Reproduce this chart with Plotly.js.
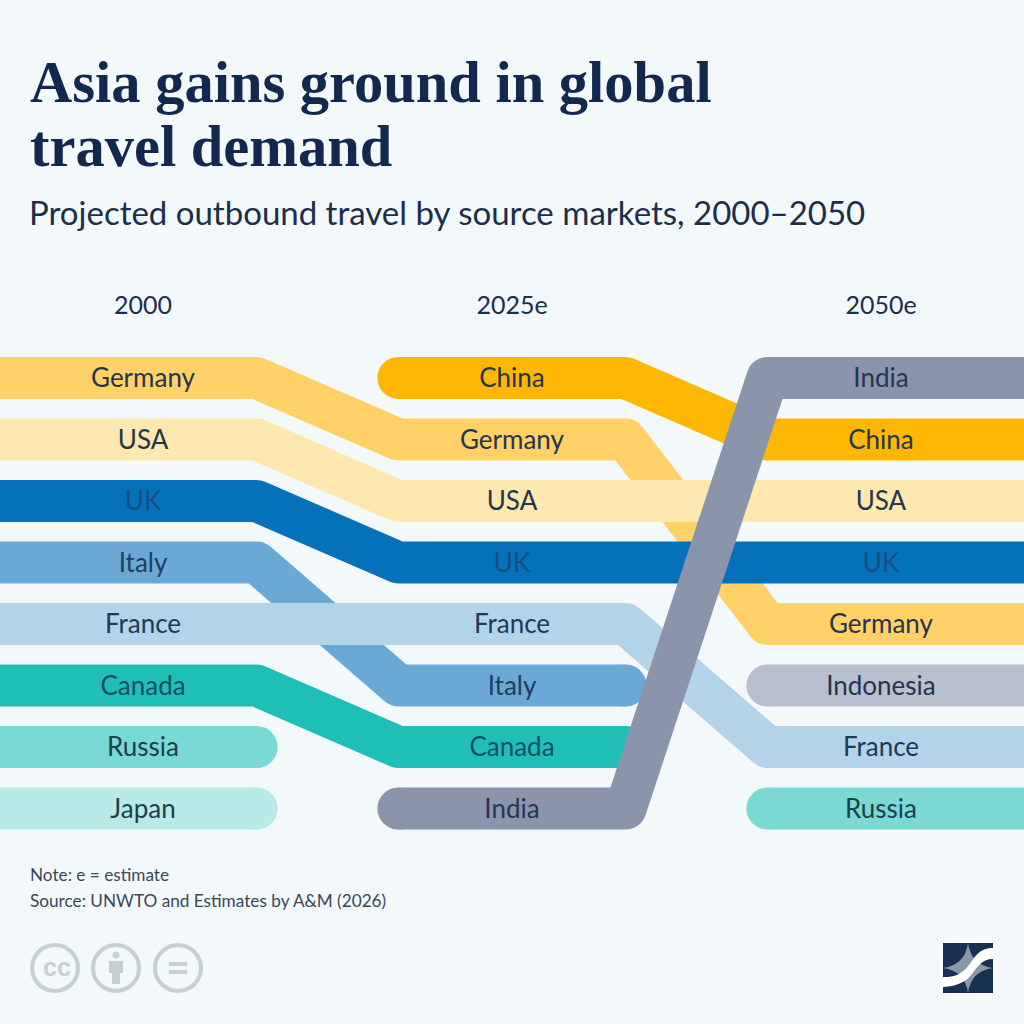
<!DOCTYPE html>
<html>
<head>
<meta charset="utf-8">
<script src="https://cdn.plot.ly/plotly-3.0.1.min.js"></script>
<style>body { margin: 0; background: #f3f8fb; }</style>
</head>
<body>
<div id="chart" style="width:1024px;height:1024px"></div>
<script>
var years = [2000, 2025, 2050];
var yearLabels = ['2000', '2025e', '2050e'];

// rank in each year, null = outside the top eight. drawn in this order
var germany = [1, 2, 5];
var italy = [4, 6, null];
var japan = [8, null, null];
var russia = [7, null, 8];
var canada = [6, 7, null];
var usa = [2, 3, 3];
var uk = [3, 4, 4];
var france = [5, 5, 7];
var indonesia = [null, null, 6];
var china = [null, 1, 2];
var india = [null, 8, 1];

var names = ['Germany', 'Italy', 'Japan', 'Russia', 'Canada', 'USA', 'UK', 'France', 'Indonesia', 'China', 'India'];
var ranks = [germany, italy, japan, russia, canada, usa, uk, france, indonesia, china, india];
var colors = ['#ffd166', '#6aa9d6', '#b9eae7', '#7bd9d4', '#1fbfb8', '#ffe8b0', '#0571bb', '#b2d3e8', '#b8c0cf', '#ffb703', '#8a95ab'];
var textColors = ['#24354f', '#1c3f63', '#1c3f4a', '#1c3f4a', '#0f4f5c', '#24354f', '#124f85', '#1c3a58', '#24354f', '#24354f', '#24354f'];

var flat = 7.7;      // years each band stays level either side of a column
var xMin = 1990.31;
var xMax = 2059.69;
var bandWidth = 42;
var labelShift = 0.045; // text sits a little low in the band

var data = [];
for (let i = 0; i < names.length; i++) {
    var xs = [], ys = [], sizes = [];
    for (let j = 0; j < years.length; j++) {
        var r = ranks[i][j];
        if (r === null) {
            xs.push(years[j]); ys.push(null); sizes.push(0);
            continue;
        }
        var open = j > 0 && ranks[i][j - 1] !== null;
        var next = j < 2 && ranks[i][j + 1] !== null;
        xs.push(j === 0 ? xMin - 1 : years[j] - flat); ys.push(r); sizes.push(j > 0 && !open ? bandWidth : 0);
        xs.push(j === 2 ? xMax + 1 : years[j] + flat); ys.push(r); sizes.push(j < 2 && !next ? bandWidth : 0);
    }
    data.push({
        type: 'scatter',
        x: xs,
        y: ys,
        name: names[i],
        mode: 'lines+markers',
        line: { color: colors[i], width: bandWidth },
        marker: { color: colors[i], size: sizes, opacity: 1, line: { width: 0 } },
        hoverinfo: 'skip'
    });
}

// labels on top of the bands
var lx = [], ly = [], lt = [], lc = [];
for (let i = 0; i < names.length; i++) {
    for (let j = 0; j < years.length; j++) {
        if (ranks[i][j] !== null) {
            lx.push(years[j]); ly.push(ranks[i][j] + labelShift); lt.push(names[i]); lc.push(textColors[i]);
        }
    }
}
data.push({
    type: 'scatter',
    x: lx,
    y: ly,
    text: lt,
    mode: 'text',
    textposition: 'middle center',
    textfont: { family: 'Lato', size: 26, color: lc },
    hoverinfo: 'skip'
});

function px(x) { return x / 1024; }
function py(y) { return 1 - y / 1024; }
// path in page pixels -> paper coordinates
function path(s) {
    return s.replace(/(-?[\d.]+),(-?[\d.]+)/g, function (m, a, b) {
        return px(+a).toFixed(5) + ',' + py(+b).toFixed(5);
    });
}
function circle(cx, cy, r, fill, lineColor, w) {
    return {
        type: 'circle', xref: 'paper', yref: 'paper',
        x0: px(cx - r), x1: px(cx + r), y0: py(cy + r), y1: py(cy - r),
        fillcolor: fill, line: { color: lineColor, width: w }
    };
}
function shape(d, fill) {
    return { type: 'path', xref: 'paper', yref: 'paper', path: path(d), fillcolor: fill, line: { width: 0 } };
}
function text(t, x, y, size, family, color, weight) {
    return {
        text: t, xref: 'paper', yref: 'paper', x: px(x), y: py(y),
        xanchor: 'left', yanchor: 'middle', showarrow: false,
        font: { family: family, size: size, color: color, weight: weight || 400 }
    };
}

var gray = '#c6cfd5';
var shapes = [
    circle(55, 968, 23, 'rgba(0,0,0,0)', gray, 4),
    circle(116, 968, 23, 'rgba(0,0,0,0)', gray, 4),
    circle(178, 968, 23, 'rgba(0,0,0,0)', gray, 4),
    circle(116, 955, 3.5, gray, gray, 0),
    shape('M109,961 L123,961 L123,973 L120,973 L120,984 L112,984 L112,973 L109,973 Z', gray),
    shape('M169,962 L187,962 L187,966 L169,966 Z', gray),
    shape('M169,970 L187,970 L187,974 L169,974 Z', gray),
    shape('M938,938 L998,938 L998,998 L938,998 Z', '#f9fbfd'),
    shape('M943,943 L993,943 L993,993 L943,993 Z', '#17304f'),
    shape('M968,943 Q971,965 993,968 Q971,971 968,993 Q965,971 943,968 Q965,965 968,943 Z', '#8a97a8'),
    shape('M943,977 C962,978 968,966 974,958 C980,950 986,948 993,948 L993,959 C982,959 978,966 972,974 C966,982 958,986 943,987 Z', '#ffffff')
];

var annotations = [
    text('Asia gains ground in global', 28, 82, 58.5, 'Liberation Serif', '#12284f', 700),
    text('travel demand', 28, 146, 58.5, 'Liberation Serif', '#12284f', 700),
    text('Projected outbound travel by source markets, 2000\u20132050', 27, 212, 33, 'Lato', '#1c2f4a'),
    text('Note: e = estimate', 28, 874, 17.2, 'Lato', '#3a4759'),
    text('Source: UNWTO and Estimates by A&amp;M (2026)', 28, 900, 17.2, 'Lato', '#3a4759'),
    text('cc', 41, 967, 25, 'Liberation Sans', gray, 700)
];

var layout = {
    width: 1024,
    height: 1024,
    margin: { l: 0, r: 0, t: 0, b: 0 },
    paper_bgcolor: '#f3f8fb',
    plot_bgcolor: 'rgba(0,0,0,0)',
    showlegend: false,
    xaxis: {
        range: [xMin, xMax],
        side: 'top',
        tickvals: years,
        ticktext: yearLabels,
        tickfont: { family: 'Lato', size: 25, color: '#1c2f4a' },
        ticks: '',
        ticklen: 0,
        ticklabelstandoff: 10,
        showgrid: false,
        zeroline: false,
        showline: false
    },
    yaxis: {
        domain: [py(850), py(330)],
        range: [8.675, 0.22],
        visible: false
    },
    shapes: shapes,
    annotations: annotations
};

Plotly.newPlot('chart', data, layout, { displayModeBar: false }).then(function () {
    // band corners are rounded in the original
    document.querySelectorAll('#chart .js-line').forEach(function (p) {
        p.style.strokeLinejoin = 'round';
    });
});
</script>
</body>
</html>
